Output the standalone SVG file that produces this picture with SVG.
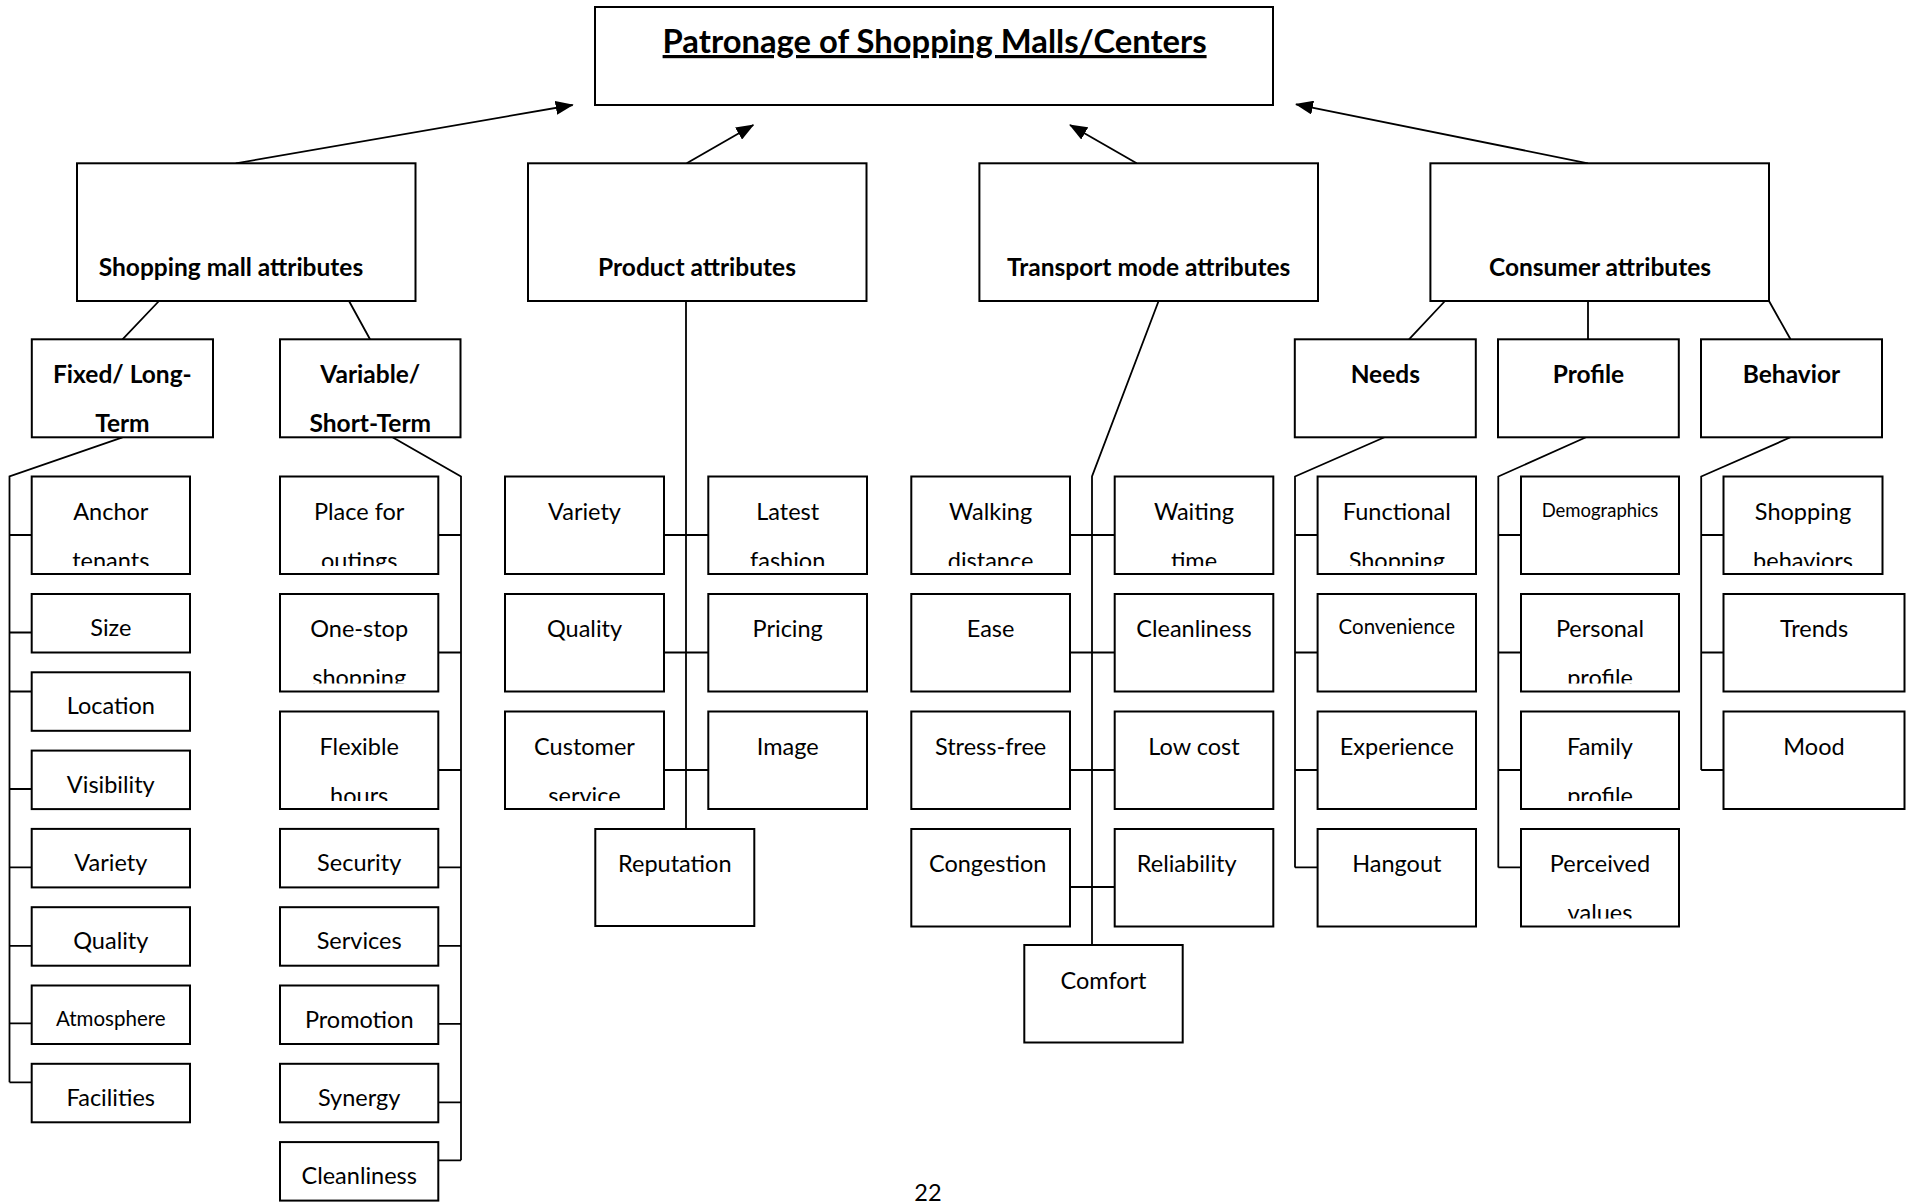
<svg xmlns="http://www.w3.org/2000/svg" width="1912" height="1204" viewBox="0 0 1912 1204">
<style>
.box{fill:#fff;stroke:#000;stroke-width:2}
.c{fill:none;stroke:#000;stroke-width:1.8}
.t{font-family:Lato,"Liberation Sans",sans-serif;font-size:23.5px;text-anchor:middle;fill:#000}
.s{font-size:20.5px}
.xs{font-size:18.5px}
.b{font-weight:bold;font-size:24.5px}
.title{font-family:Lato,"Liberation Sans",sans-serif;font-weight:bold;font-size:32px;text-decoration:underline;fill:#000}
</style>
<defs>
<marker id="ah" markerUnits="userSpaceOnUse" markerWidth="18" markerHeight="14" refX="17" refY="7" orient="auto"><path d="M0,0 L18,7 L0,14 z" fill="#000"/></marker>
<clipPath id="c-anchor"><rect x="31.7" y="476.5" width="158.3" height="89.5"/></clipPath>
<clipPath id="c-place"><rect x="280" y="476.5" width="158.3" height="89.5"/></clipPath>
<clipPath id="c-onestop"><rect x="280" y="594" width="158.3" height="89.5"/></clipPath>
<clipPath id="c-flex"><rect x="280" y="711.5" width="158.3" height="89.5"/></clipPath>
<clipPath id="c-latest"><rect x="708.3" y="476.5" width="158.7" height="89.5"/></clipPath>
<clipPath id="c-cust"><rect x="505" y="711.5" width="159" height="89.5"/></clipPath>
<clipPath id="c-walk"><rect x="911.3" y="476.5" width="158.7" height="89.5"/></clipPath>
<clipPath id="c-wait"><rect x="1114.7" y="476.5" width="158.6" height="89.5"/></clipPath>
<clipPath id="c-func"><rect x="1317.6" y="476.5" width="158.4" height="89.5"/></clipPath>
<clipPath id="c-pers"><rect x="1521" y="594" width="158" height="89.5"/></clipPath>
<clipPath id="c-fam"><rect x="1521" y="711.5" width="158" height="89.5"/></clipPath>
<clipPath id="c-perc"><rect x="1521" y="829" width="158" height="89.5"/></clipPath>
<clipPath id="c-shop"><rect x="1723.5" y="476.5" width="159" height="89.5"/></clipPath>
</defs>
<rect x="0" y="0" width="1912" height="1204" fill="#fff"/>

<g id="connectors">
<line class="c" x1="235.8" y1="163.3" x2="572.7" y2="105" marker-end="url(#ah)"/>
<line class="c" x1="686.7" y1="163.3" x2="753.3" y2="125" marker-end="url(#ah)"/>
<line class="c" x1="1136.7" y1="163.3" x2="1070" y2="125" marker-end="url(#ah)"/>
<line class="c" x1="1588" y1="163.3" x2="1296" y2="104.3" marker-end="url(#ah)"/>
<path class="c" d="M159,301 L122.5,339.3 M349,301 L370,339.3 M1445,301 L1409,339.3 M1588,301 L1588,339.3 M1769,301 L1790.5,339.3"/>
<path class="c" d="M122.5,437.3 L9.5,476.5 L9.5,1082.3 M9.5,535 H31.7 M9.5,632.5 H31.7 M9.5,691.5 H31.7 M9.5,789 H31.7 M9.5,867.4 H31.7 M9.5,945.8 H31.7 M9.5,1023.3 H31.7 M9.5,1082.3 H31.7"/>
<path class="c" d="M392.5,437.3 L461,476.5 L461,1160.3 M438.3,535 H461 M438.3,652.5 H461 M438.3,770 H461 M438.3,867.4 H461 M438.3,945.8 H461 M438.3,1023.8 H461 M438.3,1102.3 H461 M438.3,1160.3 H461"/>
<path class="c" d="M686,301 L686,829 M664,535 H708.3 M664,652.5 H708.3 M664,770 H708.3"/>
<path class="c" d="M1158.6,301 L1092,476.5 L1092,946 M1070,535 H1114.7 M1070,652.5 H1114.7 M1070,770 H1114.7 M1070,887 H1114.7"/>
<path class="c" d="M1384.5,437.3 L1295,476.5 L1295,867.4 M1295,535 H1317.6 M1295,652.5 H1317.6 M1295,770 H1317.6 M1295,867.4 H1317.6"/>
<path class="c" d="M1586,437.3 L1498.3,476.5 L1498.3,867.4 M1498.3,535 H1521 M1498.3,652.5 H1521 M1498.3,770 H1521 M1498.3,867.4 H1521"/>
<path class="c" d="M1790.5,437.3 L1701.2,476.5 L1701.2,770 M1701.2,535 H1723.5 M1701.2,652.5 H1723.5 M1701.2,770 H1723.5"/>
</g>

<g id="n-root"><rect class="box" x="595" y="7" width="678" height="98"/>
<text class="title" x="662.6" y="53" textLength="544" lengthAdjust="spacingAndGlyphs">Patronage of Shopping Malls/Centers</text></g>

<g id="n-sma"><rect class="box" x="77" y="163.3" width="338.5" height="137.7"/><text class="t b" x="231" y="276">Shopping mall attributes</text></g>
<g id="n-prod"><rect class="box" x="528" y="163.3" width="338.5" height="137.7"/><text class="t b" x="697" y="276">Product attributes</text></g>
<g id="n-trans"><rect class="box" x="979.4" y="163.3" width="338.6" height="137.7"/><text class="t b" x="1148.7" y="276">Transport mode attributes</text></g>
<g id="n-cons"><rect class="box" x="1430.4" y="163.3" width="338.6" height="137.7"/><text class="t b" x="1600" y="276">Consumer attributes</text></g>

<g id="n-fixed"><rect class="box" x="31.8" y="339.3" width="181.2" height="98"/><text class="t b" x="122.4" y="383.3">Fixed/ Long-<tspan x="122.4" y="431.7">Term</tspan></text></g>
<g id="n-var"><rect class="box" x="280" y="339.3" width="180.5" height="98"/><text class="t b" x="370.3" y="383.3">Variable/<tspan x="370.3" y="431.7">Short-Term</tspan></text></g>
<g id="n-needs"><rect class="box" x="1294.8" y="339.3" width="181" height="98"/><text class="t b" x="1385.3" y="383.3">Needs</text></g>
<g id="n-profile"><rect class="box" x="1498" y="339.3" width="180.8" height="98"/><text class="t b" x="1588.4" y="383.3">Profile</text></g>
<g id="n-behavior"><rect class="box" x="1701" y="339.3" width="181" height="98"/><text class="t b" x="1791.5" y="383.3">Behavior</text></g>

<g id="n-anchor"><rect class="box" x="31.7" y="476.5" width="158.3" height="97.5"/><text class="t" clip-path="url(#c-anchor)" x="110.8" y="519.5">Anchor<tspan x="110.8" y="568.5">tenants</tspan></text></g>
<g id="n-size"><rect class="box" x="31.7" y="594" width="158.3" height="58.5"/><text class="t" x="110.8" y="636">Size</text></g>
<g id="n-location"><rect class="box" x="31.7" y="672.3" width="158.3" height="58.5"/><text class="t" x="110.8" y="714.3">Location</text></g>
<g id="n-visibility"><rect class="box" x="31.7" y="750.6" width="158.3" height="58.5"/><text class="t" x="110.8" y="792.6">Visibility</text></g>
<g id="n-variety1"><rect class="box" x="31.7" y="828.9" width="158.3" height="58.5"/><text class="t" x="110.8" y="870.9">Variety</text></g>
<g id="n-quality1"><rect class="box" x="31.7" y="907.2" width="158.3" height="58.5"/><text class="t" x="110.8" y="949.2">Quality</text></g>
<g id="n-atmos"><rect class="box" x="31.7" y="985.5" width="158.3" height="58.5"/><text class="t s" x="110.8" y="1026">Atmosphere</text></g>
<g id="n-facil"><rect class="box" x="31.7" y="1063.8" width="158.3" height="58.5"/><text class="t" x="110.8" y="1105.8">Facilities</text></g>

<g id="n-place"><rect class="box" x="280" y="476.5" width="158.3" height="97.5"/><text class="t" clip-path="url(#c-place)" x="359.2" y="519.5">Place for<tspan x="359.2" y="568.5">outings</tspan></text></g>
<g id="n-onestop"><rect class="box" x="280" y="594" width="158.3" height="97.5"/><text class="t" clip-path="url(#c-onestop)" x="359.2" y="637">One-stop<tspan x="359.2" y="686">shopping</tspan></text></g>
<g id="n-flex"><rect class="box" x="280" y="711.5" width="158.3" height="97.5"/><text class="t" clip-path="url(#c-flex)" x="359.2" y="754.5">Flexible<tspan x="359.2" y="803.5">hours</tspan></text></g>
<g id="n-security"><rect class="box" x="280" y="828.9" width="158.3" height="58.5"/><text class="t" x="359.2" y="870.9">Security</text></g>
<g id="n-services"><rect class="box" x="280" y="907.2" width="158.3" height="58.5"/><text class="t" x="359.2" y="949.2">Services</text></g>
<g id="n-promo"><rect class="box" x="280" y="985.5" width="158.3" height="58.5"/><text class="t" x="359.2" y="1027.5">Promotion</text></g>
<g id="n-synergy"><rect class="box" x="280" y="1063.8" width="158.3" height="58.5"/><text class="t" x="359.2" y="1105.8">Synergy</text></g>
<g id="n-clean1"><rect class="box" x="280" y="1142.1" width="158.3" height="58.5"/><text class="t" x="359.2" y="1184.1">Cleanliness</text></g>

<g id="n-variety2"><rect class="box" x="505" y="476.5" width="159" height="97.5"/><text class="t" x="584.5" y="519.5">Variety</text></g>
<g id="n-latest"><rect class="box" x="708.3" y="476.5" width="158.7" height="97.5"/><text class="t" clip-path="url(#c-latest)" x="787.7" y="519.5">Latest<tspan x="787.7" y="568.5">fashion</tspan></text></g>
<g id="n-quality2"><rect class="box" x="505" y="594" width="159" height="97.5"/><text class="t" x="584.5" y="637">Quality</text></g>
<g id="n-pricing"><rect class="box" x="708.3" y="594" width="158.7" height="97.5"/><text class="t" x="787.7" y="637">Pricing</text></g>
<g id="n-cust"><rect class="box" x="505" y="711.5" width="159" height="97.5"/><text class="t" clip-path="url(#c-cust)" x="584.5" y="754.5">Customer<tspan x="584.5" y="803.5">service</tspan></text></g>
<g id="n-image"><rect class="box" x="708.3" y="711.5" width="158.7" height="97.5"/><text class="t" x="787.7" y="754.5">Image</text></g>
<g id="n-reput"><rect class="box" x="595.3" y="829" width="159" height="97"/><text class="t" x="674.8" y="872">Reputation</text></g>

<g id="n-walk"><rect class="box" x="911.3" y="476.5" width="158.7" height="97.5"/><text class="t" clip-path="url(#c-walk)" x="990.6" y="519.5">Walking<tspan x="990.6" y="568.5">distance</tspan></text></g>
<g id="n-wait"><rect class="box" x="1114.7" y="476.5" width="158.6" height="97.5"/><text class="t" clip-path="url(#c-wait)" x="1194" y="519.5">Waiting<tspan x="1194" y="568.5">time</tspan></text></g>
<g id="n-ease"><rect class="box" x="911.3" y="594" width="158.7" height="97.5"/><text class="t" x="990.6" y="637">Ease</text></g>
<g id="n-clean2"><rect class="box" x="1114.7" y="594" width="158.6" height="97.5"/><text class="t" x="1194" y="637">Cleanliness</text></g>
<g id="n-stress"><rect class="box" x="911.3" y="711.5" width="158.7" height="97.5"/><text class="t" x="990.6" y="754.5">Stress-free</text></g>
<g id="n-lowcost"><rect class="box" x="1114.7" y="711.5" width="158.6" height="97.5"/><text class="t" x="1194" y="754.5">Low cost</text></g>
<g id="n-congest"><rect class="box" x="911.3" y="829" width="158.7" height="97.5"/><text class="t" x="987.7" y="872">Congestion</text></g>
<g id="n-reliab"><rect class="box" x="1114.7" y="829" width="158.6" height="97.5"/><text class="t" x="1186.7" y="872">Reliability</text></g>
<g id="n-comfort"><rect class="box" x="1024.3" y="945" width="158.4" height="97.5"/><text class="t" x="1103.5" y="988.5">Comfort</text></g>

<g id="n-func"><rect class="box" x="1317.6" y="476.5" width="158.4" height="97.5"/><text class="t" clip-path="url(#c-func)" x="1396.8" y="519.5">Functional<tspan x="1396.8" y="568.5">Shopping</tspan></text></g>
<g id="n-conv"><rect class="box" x="1317.6" y="594" width="158.4" height="97.5"/><text class="t s" x="1396.8" y="634">Convenience</text></g>
<g id="n-exper"><rect class="box" x="1317.6" y="711.5" width="158.4" height="97.5"/><text class="t" x="1396.8" y="754.5">Experience</text></g>
<g id="n-hang"><rect class="box" x="1317.6" y="829" width="158.4" height="97.5"/><text class="t" x="1396.8" y="872">Hangout</text></g>

<g id="n-demo"><rect class="box" x="1521" y="476.5" width="158" height="97.5"/><text class="t xs" x="1600" y="516.5">Demographics</text></g>
<g id="n-pers"><rect class="box" x="1521" y="594" width="158" height="97.5"/><text class="t" clip-path="url(#c-pers)" x="1600" y="637">Personal<tspan x="1600" y="686">profile</tspan></text></g>
<g id="n-fam"><rect class="box" x="1521" y="711.5" width="158" height="97.5"/><text class="t" clip-path="url(#c-fam)" x="1600" y="754.5">Family<tspan x="1600" y="803.5">profile</tspan></text></g>
<g id="n-perc"><rect class="box" x="1521" y="829" width="158" height="97.5"/><text class="t" clip-path="url(#c-perc)" x="1600" y="872">Perceived<tspan x="1600" y="921">values</tspan></text></g>

<g id="n-shopbeh"><rect class="box" x="1723.5" y="476.5" width="159" height="97.5"/><text class="t" clip-path="url(#c-shop)" x="1803" y="519.5">Shopping<tspan x="1803" y="568.5">behaviors</tspan></text></g>
<g id="n-trends"><rect class="box" x="1723.5" y="594" width="181" height="97.5"/><text class="t" x="1814" y="637">Trends</text></g>
<g id="n-mood"><rect class="box" x="1723.5" y="711.5" width="181" height="97.5"/><text class="t" x="1814" y="754.5">Mood</text></g>

<text class="t" x="928" y="1201">22</text>
</svg>
